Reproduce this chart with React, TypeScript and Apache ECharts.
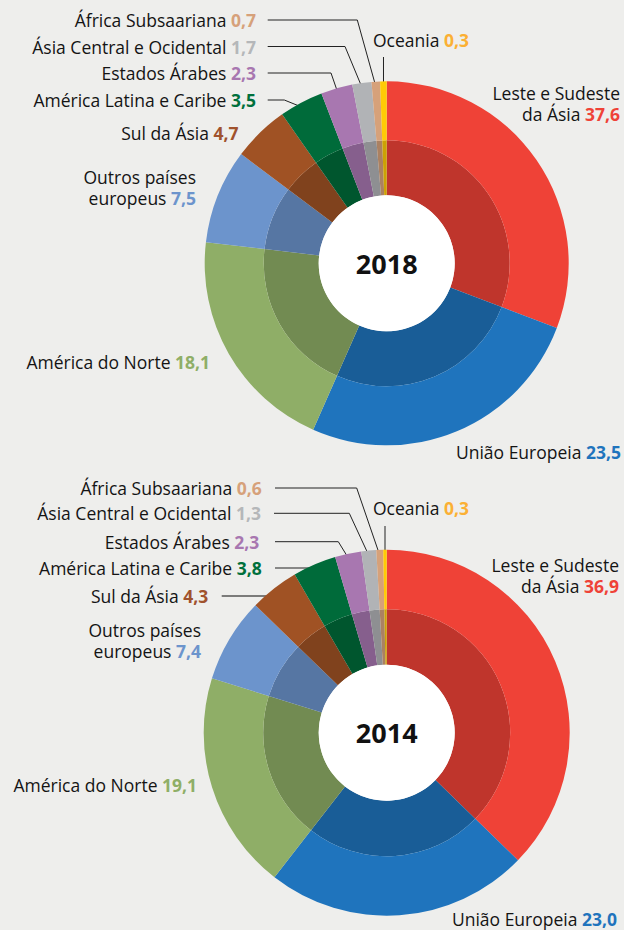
import React, { useEffect, useRef } from 'react';
import * as echarts from 'echarts';

// ---------- data ----------
const categories = [
  'Leste e Sudeste\nda Ásia',
  'União Europeia',
  'América do Norte',
  'Outros países\neuropeus',
  'Sul da Ásia',
  'América Latina e Caribe',
  'Estados Árabes',
  'Ásia Central e Ocidental',
  'África Subsaariana',
  'Oceania',
];
const years = ['2018', '2014'];
// values printed in the labels
const values2018 = [37.6, 23.5, 18.1, 7.5, 4.7, 3.5, 2.3, 1.7, 0.7, 0.3];
const values2014 = [36.9, 23.0, 19.1, 7.4, 4.3, 3.8, 2.3, 1.3, 0.6, 0.3];
// slice sizes as drawn in the picture (the 2018 ring is not drawn to its printed values)
const sliceShares2018 = [30.75, 25.8, 20.2, 8.4, 5.0, 3.9, 2.8, 1.7, 0.75, 0.58];
const sliceShares2014 = values2014;
const valuesByYear = [values2018, values2014];
const sharesByYear = [sliceShares2018, sliceShares2014];

// ---------- style ----------
const sliceColors = ['#EF4237', '#1F74BD', '#8FAE67', '#6C94CC', '#A05224', '#006B3A', '#A877B0', '#B1B3B6', '#D6A17A', '#FFCB05'];
const valueColors = ['#EF4237', '#1F74BD', '#8FAE67', '#6C94CC', '#A0522D', '#00703C', '#A877B0', '#B5B7B9', '#D6A17A', '#FBB034'];
const FONT = '"Open Sans", "Noto Sans", sans-serif';
const BG = '#EEEEEC';

type LabelPos = { x: number; y: number; align: 'left' | 'right'; line?: 'elbow' | 'h' | 'v'; start?: number; elbow?: number; lineColor?: string; lineWidth?: number };

const layouts: { center: [number, number]; radii: [number, number, number]; labels: LabelPos[] }[] = [
  {
    center: [386.7, 263.3],
    radii: [68, 123, 182],
    labels: [
      { x: 620, y: 103.3, align: 'right' },
      { x: 621, y: 452.3, align: 'right' },
      { x: 210, y: 361.7, align: 'right' },
      { x: 196, y: 187.5, align: 'right' },
      { x: 238.5, y: 133, align: 'right' },
      { x: 256, y: 100, align: 'right', line: 'elbow', start: 267.7, elbow: 284.3 },
      { x: 256, y: 73, align: 'right', line: 'elbow', start: 267.7, elbow: 331 },
      { x: 256, y: 46.5, align: 'right', line: 'elbow', start: 267.7, elbow: 345 },
      { x: 256, y: 20, align: 'right', line: 'elbow', start: 267.7, elbow: 357.3 },
      { x: 373, y: 40, align: 'left', line: 'v', start: 57 },
    ],
  },
  {
    center: [386.7, 732.7],
    radii: [68, 123.5, 183],
    labels: [
      { x: 619, y: 575.3, align: 'right' },
      { x: 617, y: 919, align: 'right' },
      { x: 197, y: 785, align: 'right' },
      { x: 201, y: 640.5, align: 'right' },
      { x: 208.3, y: 596, align: 'right', line: 'h', start: 221.7, lineColor: '#555', lineWidth: 1.5 },
      { x: 261.7, y: 568, align: 'right', line: 'h', start: 275 },
      { x: 259.3, y: 541.7, align: 'right', line: 'elbow', start: 275, elbow: 338.3 },
      { x: 261, y: 513.3, align: 'right', line: 'elbow', start: 274, elbow: 349.3 },
      { x: 261.7, y: 488, align: 'right', line: 'elbow', start: 275, elbow: 356.7 },
      { x: 373, y: 508, align: 'left', line: 'v', start: 526 },
    ],
  },
];

const darken = (hex: string, f = 0.8) => {
  const n = parseInt(hex.slice(1), 16);
  const r = Math.round(((n >> 16) & 255) * f);
  const g = Math.round(((n >> 8) & 255) * f);
  const b = Math.round((n & 255) * f);
  return `rgb(${r},${g},${b})`;
};

const fmt = (v: number) => v.toFixed(1).replace('.', ',');

function buildSeries(k: number) {
  const values = valuesByYear[k];
  const shares = sharesByYear[k];
  const L = layouts[k];
  const [cx, cy] = L.center;
  const [r0, r1, r2] = L.radii;
  const total = shares.reduce((a, b) => a + b, 0);
  const anchor = (i: number) => {
    const cum = shares.slice(0, i).reduce((a, b) => a + b, 0) + shares[i] / 2;
    const a = ((90 - (360 * cum) / total) * Math.PI) / 180;
    const r = r2 - 6;
    return [cx + r * Math.cos(a), cy - r * Math.sin(a)];
  };
  const rich: Record<string, any> = {};
  valueColors.forEach((c, i) => {
    rich['v' + i] = { color: c, fontWeight: 'bold', fontSize: 17.5, fontFamily: FONT, lineHeight: 20.5 };
  });
  const outer = {
    type: 'pie',
    center: [cx, cy],
    radius: [r1, r2],
    startAngle: 90,
    clockwise: true,
    avoidLabelOverlap: false,
    minShowLabelAngle: 0,
    silent: true,
    z: 3,
    data: shares.map((s, i) => ({
      value: s,
      name: categories[i],
      itemStyle: { color: sliceColors[i] },
      labelLine: {
        show: !!L.labels[i].line,
        lineStyle: { color: L.labels[i].lineColor || '#222', width: L.labels[i].lineWidth || 1 },
      },
    })),
    label: {
      show: true,
      position: 'outside',
      color: '#141414',
      fontSize: 17.5,
      fontFamily: FONT,
      lineHeight: 20.5,
      formatter: (p: any) => `${p.name} {v${p.dataIndex}|${fmt(values[p.dataIndex])}}`,
      rich,
    },
    labelLine: { show: true, smooth: false, length: 10, length2: 10 },
    labelLayout: (p: any) => {
      const pos = L.labels[p.dataIndex];
      const res: any = { x: pos.x, y: pos.y, align: pos.align, verticalAlign: 'middle' };
      if (pos.line) {
        const [ax, ay] = anchor(p.dataIndex);
        if (pos.line === 'elbow') {
          res.labelLinePoints = [[ax, ay], [pos.elbow, pos.y], [pos.start, pos.y]];
        } else if (pos.line === 'h') {
          res.labelLinePoints = [[ax, pos.y], [ax, pos.y], [pos.start, pos.y]];
        } else {
          res.labelLinePoints = [[ax, ay], [ax, pos.start], [ax, pos.start]];
        }
      }
      return res;
    },
    emphasis: { disabled: true },
  };
  const inner = {
    type: 'pie',
    center: [cx, cy],
    radius: [r0, r1],
    startAngle: 90,
    clockwise: true,
    silent: true,
    z: 2,
    data: shares.map((s, i) => ({ value: s, name: categories[i], itemStyle: { color: darken(sliceColors[i]) } })),
    label: { show: false },
    labelLine: { show: false },
    emphasis: { disabled: true },
  };
  const hole = {
    type: 'pie',
    center: [cx, cy],
    radius: [0, r0],
    silent: true,
    z: 2,
    data: [{ value: 1, name: years[k], itemStyle: { color: '#ffffff' } }],
    label: {
      show: true,
      position: 'center',
      formatter: years[k],
      fontSize: 27,
      fontWeight: 'bold',
      color: '#111',
      fontFamily: FONT,
    },
    labelLine: { show: false },
    emphasis: { disabled: true },
  };
  return [outer, inner, hole];
}

export default function App() {
  const ref = useRef<HTMLDivElement>(null);
  useEffect(() => {
    if (!ref.current) return;
    const chart = echarts.init(ref.current, undefined, { renderer: 'svg' });
    chart.setOption({
      animation: false,
      backgroundColor: BG,
      series: [...buildSeries(0), ...buildSeries(1)],
    } as any);
    return () => chart.dispose();
  }, []);
  return (
    <div
      ref={ref}
      style={{ position: 'absolute', left: 0, top: 0, width: 624, height: 930, background: BG }}
    />
  );
}
